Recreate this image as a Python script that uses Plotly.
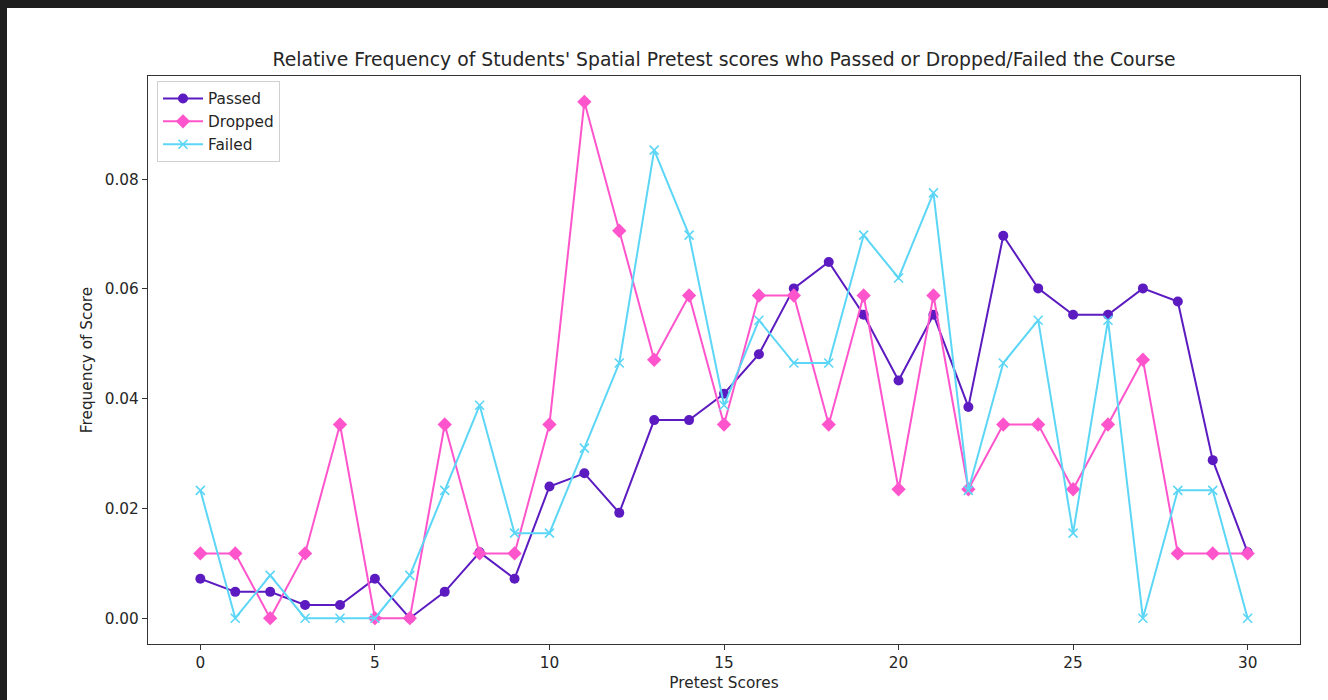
import plotly.graph_objects as go

scores = list(range(31))
passed = [0.0072, 0.0048, 0.0048, 0.0024, 0.0024, 0.0072, 0.0, 0.0048, 0.0120, 0.0072,
          0.0240, 0.0264, 0.0192, 0.0361, 0.0361, 0.0409, 0.0481, 0.0601, 0.0649, 0.0553,
          0.0433, 0.0553, 0.0385, 0.0697, 0.0601, 0.0553, 0.0553, 0.0601, 0.0577, 0.0288,
          0.0120]
dropped = [0.0118, 0.0118, 0.0, 0.0118, 0.0353, 0.0, 0.0, 0.0353, 0.0118, 0.0118,
           0.0353, 0.0941, 0.0706, 0.0471, 0.0588, 0.0353, 0.0588, 0.0588, 0.0353, 0.0588,
           0.0235, 0.0588, 0.0235, 0.0353, 0.0353, 0.0235, 0.0353, 0.0471, 0.0118, 0.0118,
           0.0118]
failed = [0.0233, 0.0, 0.0078, 0.0, 0.0, 0.0, 0.0078, 0.0233, 0.0388, 0.0155,
          0.0155, 0.0310, 0.0465, 0.0853, 0.0698, 0.0388, 0.0543, 0.0465, 0.0465, 0.0698,
          0.0620, 0.0775, 0.0233, 0.0465, 0.0543, 0.0155, 0.0543, 0.0, 0.0233, 0.0233,
          0.0]
x_ticks = [0, 5, 10, 15, 20, 25, 30]
y_ticks = [0.0, 0.02, 0.04, 0.06, 0.08]
y_tick_labels = ["0.00", "0.02", "0.04", "0.06", "0.08"]

FONT = "DejaVu Sans"
PURPLE = "#5B1BC0"
PINK = "#FF55CC"
CYAN = "#5CD6F6"
FS = 15.3

fig = go.Figure()
fig.add_trace(go.Scatter(x=scores, y=passed, name="Passed", mode="lines+markers",
                         line=dict(color=PURPLE, width=2),
                         marker=dict(symbol="circle", size=10, color=PURPLE)))
fig.add_trace(go.Scatter(x=scores, y=dropped, name="Dropped", mode="lines+markers",
                         line=dict(color=PINK, width=2),
                         marker=dict(symbol="diamond", size=11, color=PINK)))
fig.add_trace(go.Scatter(x=scores, y=failed, name="Failed", mode="lines+markers",
                         line=dict(color=CYAN, width=2),
                         marker=dict(symbol="x-thin", size=9, color=CYAN,
                                     line=dict(color=CYAN, width=1.6))))

# body margin is removed in the page, so figure pixels map 1:1 to the window
W, H = 1328, 700
L, T = 148, 76
R, B = 1328 - 1300, 700 - 644
pw, ph = W - L - R, H - T - B

def px_x(p):
    return (p - L) / pw

def px_y(p):
    return 1 - (p - T) / ph

dark = "#1e1e1e"
fig.update_layout(
    width=W, height=H,
    margin=dict(l=L, r=R, t=T, b=B),
    paper_bgcolor="white", plot_bgcolor="white",
    font=dict(family=FONT, size=FS, color="#262626"),
    title=dict(text="Relative Frequency of Students' Spatial Pretest scores who Passed or Dropped/Failed the Course",
               x=0.5, xref="paper", xanchor="center",
               y=1 - 59 / H, yref="container", yanchor="middle",
               font=dict(family=FONT, size=18.8, color="#262626")),
    xaxis=dict(range=[-1.5, 31.5], tickmode="array", tickvals=x_ticks,
               showgrid=False, zeroline=False, showline=True, mirror=True,
               linecolor="#333333", linewidth=1.2, ticks="outside", ticklen=5,
               tickcolor="#333333", tickfont=dict(size=FS),
               title=dict(text="Pretest Scores", font=dict(size=FS), standoff=5)),
    yaxis=dict(range=[-0.0047, 0.0988], tickmode="array", tickvals=y_ticks,
               ticktext=y_tick_labels,
               showgrid=False, zeroline=False, showline=True, mirror=True,
               linecolor="#333333", linewidth=1.2, ticks="outside", ticklen=5,
               tickcolor="#333333", tickfont=dict(size=FS),
               title=dict(text="Frequency of Score", font=dict(size=FS), standoff=8)),
    legend=dict(x=px_x(157), y=px_y(81), xanchor="left", yanchor="top",
                bgcolor="rgba(255,255,255,0.8)", bordercolor="#d0d0d0", borderwidth=1,
                font=dict(size=FS), itemwidth=40),
    showlegend=True,
    shapes=[
        dict(type="rect", xref="paper", yref="paper",
             x0=px_x(0), x1=px_x(W), y0=px_y(8), y1=px_y(0),
             fillcolor=dark, line=dict(width=0), layer="above"),
        dict(type="rect", xref="paper", yref="paper",
             x0=px_x(0), x1=px_x(7), y0=px_y(H), y1=px_y(0),
             fillcolor=dark, line=dict(width=0), layer="above"),
    ],
)

fig.write_html(
    "out.html",
    config={"displayModeBar": False},
    post_script=("document.body.style.margin='0';"
                 "document.documentElement.style.overflow='hidden';"
                 "document.body.style.overflow='hidden';"),
)
